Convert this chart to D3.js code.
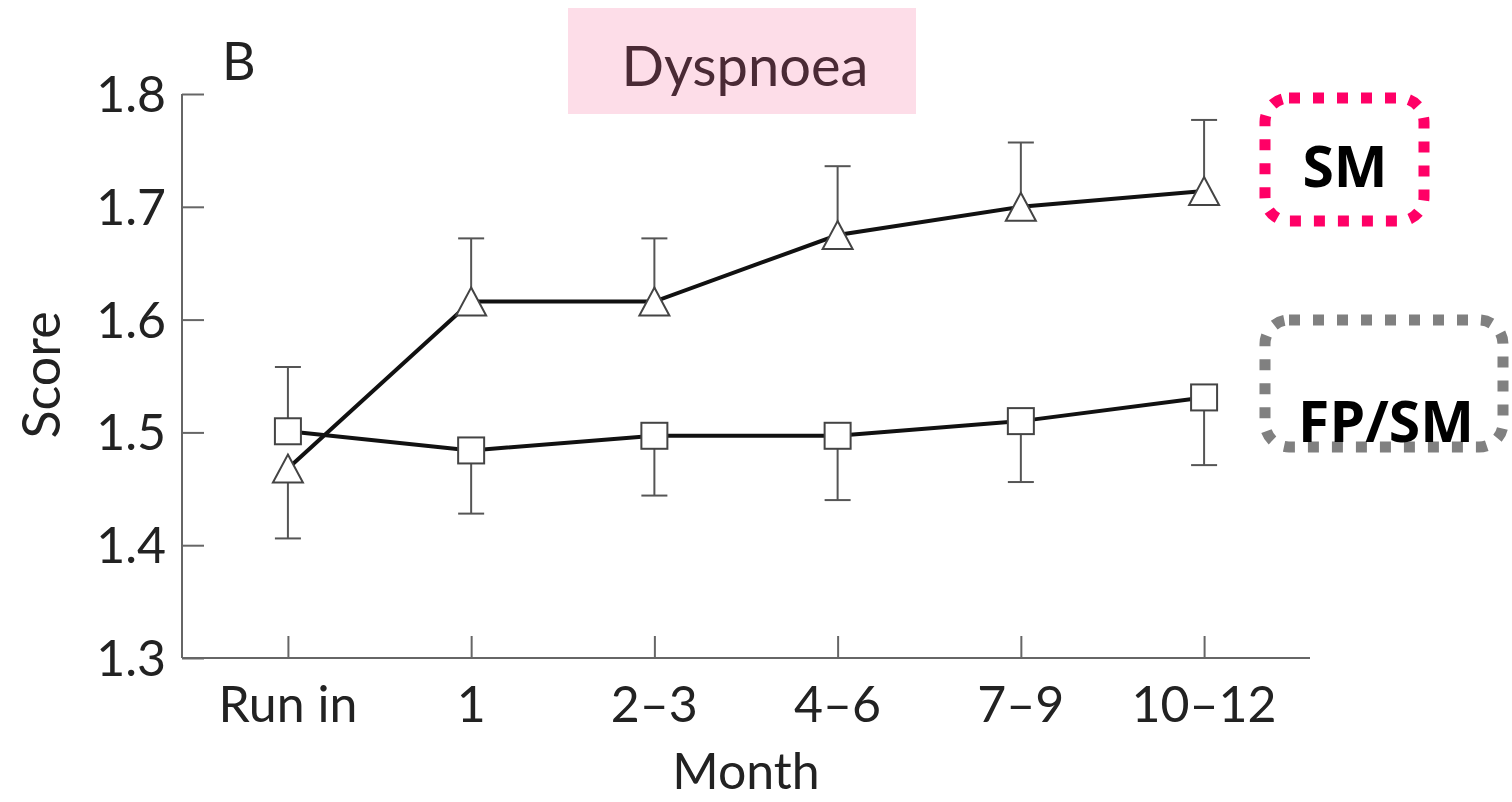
<!DOCTYPE html>
<html><head><meta charset="utf-8">
<script src="https://cdn.jsdelivr.net/npm/d3@7"></script>
<style>body{margin:0;background:#fff;} svg{display:block;}</style>
</head><body>
<svg id="c" width="1512" height="802"></svg>
<script>
const categories = ["Run in", "1", "2\u20133", "4\u20136", "7\u20139", "10\u201312"];
const smMean  = [1.468, 1.616, 1.616, 1.675, 1.700, 1.714];
const smErr   = [1.406, 1.672, 1.672, 1.736, 1.757, 1.777];
const fpMean  = [1.501, 1.484, 1.497, 1.497, 1.510, 1.531];
const fpErr   = [1.558, 1.428, 1.444, 1.440, 1.456, 1.471];
const yTicks  = [1.3, 1.4, 1.5, 1.6, 1.7, 1.8];

const svg = d3.select("#c");
const font = "Lato, 'Open Sans', sans-serif";
const x = d3.scalePoint().domain(categories).range([182, 1310]).padding(0.578);
const y = d3.scaleLinear().domain([1.3, 1.8]).range([658, 94]);

// title box
svg.append("rect").attr("x", 568).attr("y", 8).attr("width", 348).attr("height", 106).attr("fill", "#fddde8");
svg.append("text").attr("x", 745).attr("y", 86).attr("text-anchor", "middle")
  .attr("font-family", font).attr("font-size", 56).attr("fill", "#4a2a35").text("Dyspnoea");
svg.append("text").attr("x", 222).attr("y", 80)
  .attr("font-family", font).attr("font-size", 52).attr("fill", "#222").text("B");

// axes
const yAxis = d3.axisRight(y).tickValues(yTicks).tickSize(22).tickFormat("");
const gy = svg.append("g").attr("transform", "translate(182,0)").call(yAxis);
gy.select(".domain").attr("d", `M0,${y(1.8)}V${y(1.3)}`);
const xAxis = d3.axisTop(x).tickSize(22).tickFormat("");
const gx = svg.append("g").attr("transform", "translate(0,658)").call(xAxis);
gx.select(".domain").attr("d", "M182,0H1310");
svg.selectAll(".domain, .tick line").attr("stroke", "#666").attr("stroke-width", 2);

svg.append("g").selectAll("text").data(yTicks).join("text")
  .attr("x", 166).attr("y", d => y(d)).attr("dy", "0.36em").attr("text-anchor", "end")
  .attr("font-family", font).attr("font-size", 50).attr("fill", "#222").text(d => d.toFixed(1));
svg.append("g").selectAll("text").data(categories).join("text")
  .attr("x", d => x(d)).attr("y", 722).attr("text-anchor", "middle")
  .attr("font-family", font).attr("font-size", 50).attr("fill", "#222").text(d => d);
svg.append("text").attr("x", 746).attr("y", 789).attr("text-anchor", "middle")
  .attr("font-family", font).attr("font-size", 50).attr("fill", "#222").text("Month");
svg.append("text").attr("transform", "translate(60,375) rotate(-90)").attr("text-anchor", "middle")
  .attr("font-family", font).attr("font-size", 52).attr("fill", "#222").text("Score");

// error bars
function errBars(means, errs) {
  const g = svg.append("g").attr("stroke", "#555").attr("stroke-width", 2).attr("fill", "none");
  categories.forEach((c, i) => {
    g.append("line").attr("x1", x(c)).attr("x2", x(c)).attr("y1", y(means[i])).attr("y2", y(errs[i]));
    g.append("line").attr("x1", x(c) - 13).attr("x2", x(c) + 13).attr("y1", y(errs[i])).attr("y2", y(errs[i]));
  });
}
errBars(smMean, smErr);
errBars(fpMean, fpErr);

// lines
const line = d3.line().x((d, i) => x(categories[i])).y(d => y(d));
[smMean, fpMean].forEach(s => svg.append("path").datum(s).attr("d", line)
  .attr("fill", "none").attr("stroke", "#111").attr("stroke-width", 4));

// markers
svg.append("g").selectAll("path").data(smMean).join("path")
  .attr("d", (d, i) => { const cx = x(categories[i]), cy = y(d); return `M${cx},${cy-14}L${cx+15},${cy+14}L${cx-15},${cy+14}Z`; })
  .attr("fill", "#fff").attr("stroke", "#444").attr("stroke-width", 2);
svg.append("g").selectAll("rect").data(fpMean).join("rect")
  .attr("x", (d, i) => x(categories[i]) - 13).attr("y", d => y(d) - 13)
  .attr("width", 26).attr("height", 26)
  .attr("fill", "#fff").attr("stroke", "#444").attr("stroke-width", 2);

// legend boxes
function legendBox(bx, by, w, h, color, label, tx, ty) {
  svg.append("rect").attr("x", bx).attr("y", by).attr("width", w).attr("height", h)
    .attr("rx", 24).attr("ry", 24).attr("fill", "none").attr("stroke", color)
    .attr("stroke-width", 11).attr("stroke-dasharray", "11 13");
  svg.append("text").attr("x", tx).attr("y", ty).attr("text-anchor", "middle")
    .attr("font-family", "'Open Sans', 'Noto Sans', sans-serif").attr("font-weight", "bold")
    .attr("font-size", 57).attr("fill", "#000").text(label);
}
legendBox(1265, 98, 159, 123, "#ff0066", "SM", 1345, 187);
legendBox(1265, 320, 238, 127, "#808080", "FP/SM", 1386, 442);
</script>
</body></html>
